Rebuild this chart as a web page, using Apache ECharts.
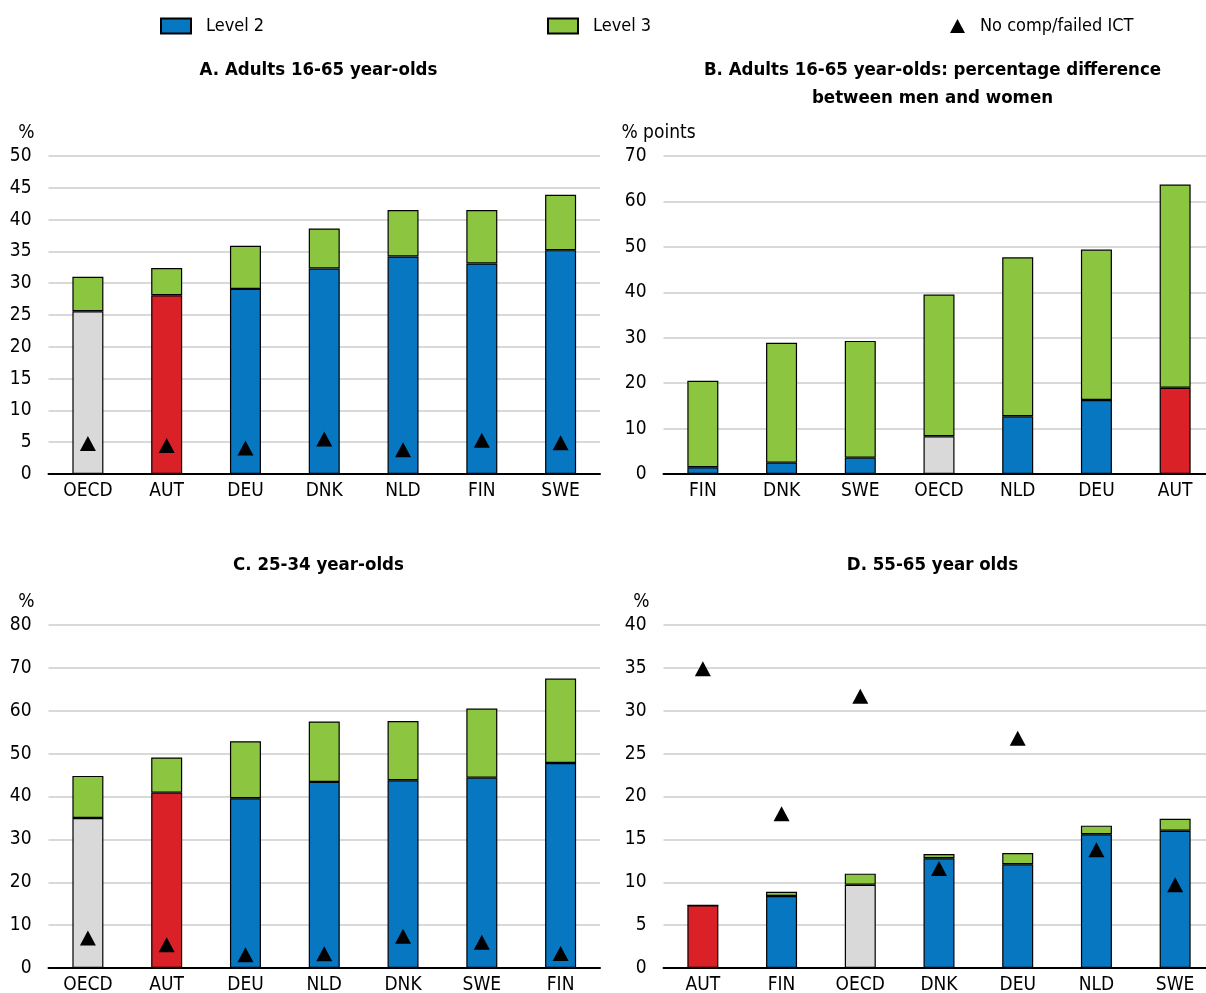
<!DOCTYPE html>
<html>
<head>
<meta charset="utf-8">
<script src="https://cdn.jsdelivr.net/npm/echarts@6/dist/echarts.min.js"></script>
<style>
html,body{margin:0;padding:0;background:#fff;}
#chart{width:1206px;height:993px;}
</style>
</head>
<body>
<div id="chart"></div>
<script>
// Panel A: Adults 16-65
const catA = ['OECD','AUT','DEU','DNK','NLD','FIN','SWE'];
const aLevel2 = [25.6,28.1,29.1,32.3,34.2,33.1,35.2];
const aLevel3 = [5.4,4.3,6.8,6.3,7.3,8.4,8.7];
const aIct = [4.8,4.5,4.1,5.5,3.8,5.3,4.9];
// Panel B: men-women difference
const catB = ['FIN','DNK','SWE','OECD','NLD','DEU','AUT'];
const bLevel2 = [1.5,2.5,3.6,8.3,12.7,16.3,19.0];
const bLevel3 = [19.0,26.4,25.7,31.2,35.0,33.1,44.7];
// Panel C: 25-34
const catC = ['OECD','AUT','DEU','NLD','DNK','SWE','FIN'];
const cLevel2 = [35.0,40.9,39.6,43.4,43.8,44.4,47.8];
const cLevel3 = [9.8,8.2,13.3,14.1,13.8,16.1,19.7];
const cIct = [7.0,5.4,3.1,3.3,7.4,6.0,3.4];
// Panel D: 55-65
const catD = ['AUT','FIN','OECD','DNK','DEU','NLD','SWE'];
const dLevel2 = [7.3,8.4,9.7,12.8,12.1,15.6,16.0];
const dLevel3 = [0,0.5,1.3,0.5,1.3,1.0,1.4];
const dIct = [34.9,18.0,31.7,11.6,26.8,13.8,9.7];

const titles = ['A. Adults 16-65 year-olds','B. Adults 16-65 year-olds: percentage difference\nbetween men and women','C. 25-34 year-olds','D. 55-65 year olds'];
const yNames = ['%','% points','%','%'];
const yMax = [50,70,80,40];
const yInterval = [5,10,10,5];

const FONT = "'Liberation Sans Narrow','Arial Narrow','DejaVu Sans Condensed',sans-serif";
const BLUE = '#0677c0', GREEN = '#8cc640', RED = '#da2128', GREY = '#d9d9d9';

const grids = [
  {left:48.5, top:156, width:551.5, height:318, outerBoundsMode:'none', containLabel:false},
  {left:663.5, top:156, width:551, height:318, outerBoundsMode:'none', containLabel:false},
  {left:48.5, top:625, width:551.5, height:343, outerBoundsMode:'none', containLabel:false},
  {left:663.5, top:625, width:551, height:343, outerBoundsMode:'none', containLabel:false}
];
const cats = [catA,catB,catC,catD];
const l2 = [aLevel2,bLevel2,cLevel2,dLevel2];
const l3 = [aLevel3,bLevel3,cLevel3,dLevel3];
const ict = [aIct,null,cIct,dIct];

function l2Data(c, v){
  return v.map((x,i)=>{
    if (c[i]==='OECD') return {value:x, itemStyle:{color:GREY}};
    if (c[i]==='AUT') return {value:x, itemStyle:{color:RED}};
    return x;
  });
}

const xAxis = [], yAxis = [], series = [];
for (let k=0;k<4;k++){
  xAxis.push({
    type:'category', gridIndex:k, data:cats[k],
    axisLine:{lineStyle:{color:'#000',width:2}},
    axisTick:{inside:true,length:6,lineStyle:{color:'#000',width:2}},
    axisLabel:{color:'#000',fontFamily:FONT,fontSize:19,margin:8}
  });
  yAxis.push({
    type:'value', gridIndex:k, min:0, max:yMax[k], interval:yInterval[k],
    name:yNames[k], nameLocation:'end', nameGap:23,
    nameTextStyle: k===1 ? {color:'#000',fontFamily:FONT,fontSize:19,align:'center',verticalAlign:'middle',padding:[0,10,0,0]}
                         : {color:'#000',fontFamily:FONT,fontSize:19,align:'right',verticalAlign:'middle',padding:[0,14,0,0]},
    axisLine:{show:false}, axisTick:{show:false},
    axisLabel:{color:'#000',fontFamily:FONT,fontSize:19,margin:17},
    splitLine:{lineStyle:{color:'#d9d9d9',width:2}}
  });
  series.push({
    name:'Level 2', type:'bar', stack:'s'+k, xAxisIndex:k, yAxisIndex:k,
    barWidth:31, data:l2Data(cats[k], l2[k]),
    itemStyle:{color:BLUE,borderColor:'#000',borderWidth:1.2}
  });
  series.push({
    name:'Level 3', type:'bar', stack:'s'+k, xAxisIndex:k, yAxisIndex:k,
    barWidth:31, data:l3[k],
    itemStyle:{color:GREEN,borderColor:'#000',borderWidth:1.2}
  });
  if (ict[k]){
    series.push({
      name:'No comp/failed ICT', type:'scatter', xAxisIndex:k, yAxisIndex:k,
      symbol:'triangle', symbolSize:[16,15], z:5, data:ict[k],
      itemStyle:{color:'#000',opacity:1}
    });
  }
}

const titleCenters = [[318.5,56],[932.5,56],[318.5,551],[932.5,551]];
const title = titles.map((t,i)=>({
  text:t, left:titleCenters[i][0], top:titleCenters[i][1], textAlign:'center',
  padding:0,
  textStyle:{color:'#000',fontFamily:FONT,fontSize:18.5,fontWeight:'bold',lineHeight:28}
}));

const legendBase = {
  top:17, itemGap:0, padding:0,
  textStyle:{color:'#000',fontFamily:FONT,fontSize:18,padding:[0,0,0,10]}
};
const legend = [
  Object.assign({}, legendBase, {left:160, data:[{name:'Level 2', icon:'rect'}], itemWidth:30, itemHeight:15}),
  Object.assign({}, legendBase, {left:547, data:[{name:'Level 3', icon:'rect'}], itemWidth:30, itemHeight:15}),
  Object.assign({}, legendBase, {left:950, data:[{name:'No comp/failed ICT', icon:'triangle'}], itemWidth:15, itemHeight:14})
];

const chart = echarts.init(document.getElementById('chart'));
chart.setOption({
  animation:false,
  backgroundColor:'#fff',
  title, legend, grid:grids, xAxis, yAxis, series
});
</script>
</body>
</html>
